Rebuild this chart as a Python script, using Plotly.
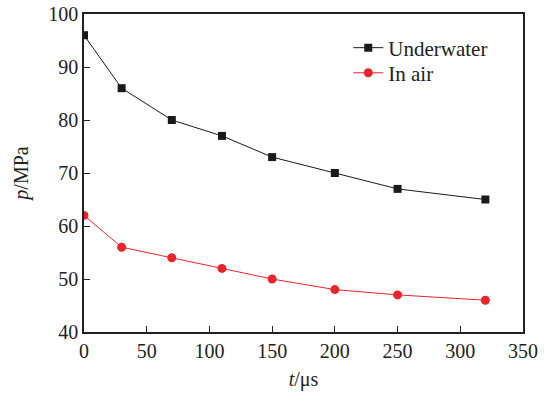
import plotly.graph_objects as go

t_us = [0, 30, 70, 110, 150, 200, 250, 320]
underwater = [96, 86, 80, 77, 73, 70, 67, 65]
in_air = [62, 56, 54, 52, 50, 48, 47, 46]

font = "Liberation Serif, Times New Roman, serif"

fig = go.Figure()
fig.add_trace(go.Scatter(x=t_us, y=underwater, mode="lines+markers", name="Underwater",
                         line=dict(color="#1a1a1a", width=1),
                         marker=dict(symbol="square", size=8, color="#1a1a1a"),
                         legend="legend"))
fig.add_trace(go.Scatter(x=t_us, y=in_air, mode="lines+markers", name="In air",
                         line=dict(color="#e8262a", width=1),
                         marker=dict(symbol="circle", size=9, color="#e8262a"),
                         legend="legend2"))

axis_common = dict(showline=True, linecolor="#222", linewidth=1.5, mirror=True,
                   ticks="inside", ticklen=6, tickcolor="#222", tickwidth=1.2,
                   showgrid=False, zeroline=False, automargin=False,
                   tickfont=dict(family=font, size=20, color="#222"))

fig.update_xaxes(range=[0, 350], tickvals=[0, 50, 100, 150, 200, 250, 300, 350],
                 title=dict(text="<i>t</i>/μs", font=dict(family=font, size=20, color="#222"), standoff=11),
                 **axis_common)
fig.update_yaxes(range=[40, 100], tickvals=[40, 50, 60, 70, 80, 90, 100],
                 title=dict(text="<i>p</i>/MPa", font=dict(family=font, size=20, color="#222"), standoff=14),
                 **axis_common)

leg = dict(xanchor="left", yanchor="middle", bgcolor="rgba(0,0,0,0)",
           font=dict(family=font, size=21, color="#222"), itemwidth=30)
fig.update_layout(width=544, height=394, margin=dict(l=84, r=21, t=14, b=62),
                  plot_bgcolor="white", paper_bgcolor="white",
                  showlegend=True,
                  legend=dict(x=0.602, y=0.893, **leg),
                  legend2=dict(x=0.602, y=0.814, **leg))

fig.write_html("out.html")
